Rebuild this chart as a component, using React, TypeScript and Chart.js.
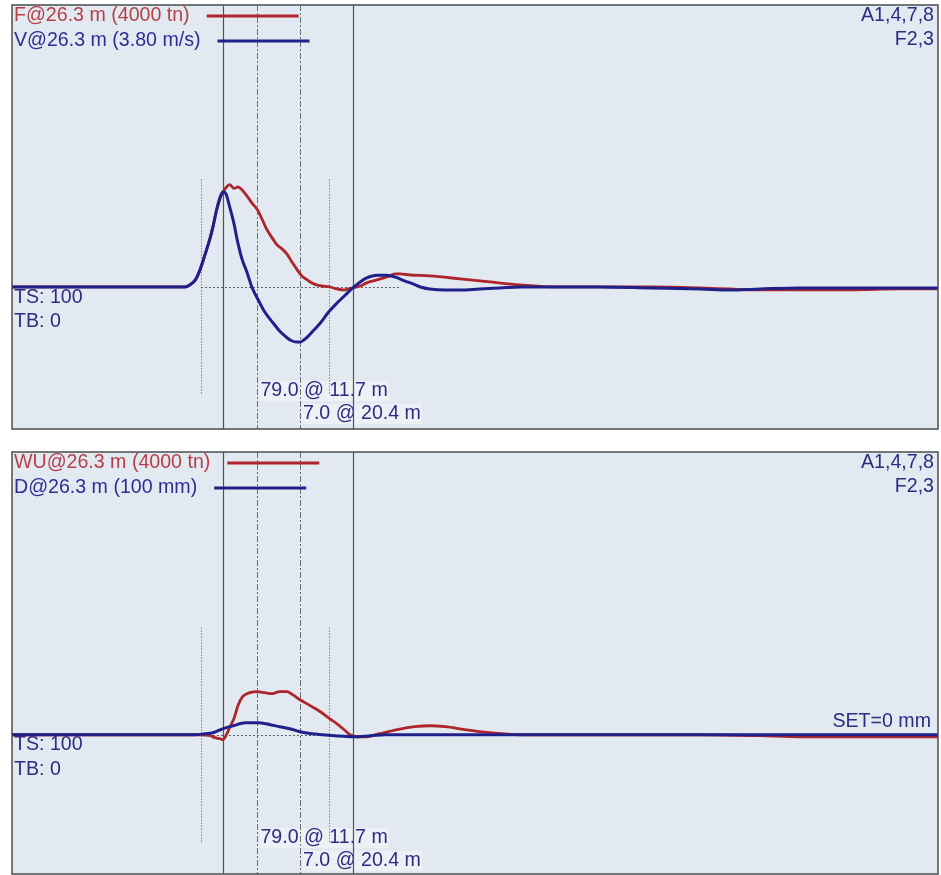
import React, { useEffect, useRef } from 'react';
import { Chart, registerables } from 'chart.js';

Chart.register(...registerables);

// ---------- data ----------
// time axis in ms
const T_RANGE = [0, 100];

// top panel: force (tn) and velocity (m/s)
const F_TOP: [number, number][] = [
  [0, 0], [14.9, 0], [18.7, 0], [19.2, 19], [19.8, 66], [20.3, 161], [20.8, 293], [21.4, 463],
  [21.7, 567], [22.1, 728], [22.5, 842], [22.8, 898], [23.1, 936], [23.5, 965], [24.0, 930],
  [24.4, 945], [24.8, 920], [25.4, 855], [25.9, 794], [26.5, 728], [27.0, 640], [27.5, 545],
  [28.1, 463], [28.6, 400], [29.2, 355], [29.7, 310], [30.2, 240], [30.8, 161], [31.3, 104],
  [31.9, 66], [32.4, 38], [32.9, 19], [33.5, 9], [34.3, 0], [35.1, -19], [35.8, -28],
  [36.3, -19], [36.8, -9], [37.6, 9], [38.3, 38], [39.4, 66], [40.5, 95], [41.4, 123],
  [41.9, 123], [43.0, 113], [45.1, 104], [48.4, 76], [51.6, 47], [54.9, 19], [59.2, 0],
  [68.9, 0], [74.3, -9], [77.5, -19], [80.8, -28], [85.1, -28], [90.5, -28], [95.9, -19], [100, -19],
];
const V_TOP: [number, number][] = [
  [0, 0], [14.9, 0], [18.7, 0], [19.2, 0.018], [19.8, 0.063], [20.3, 0.153], [20.8, 0.279],
  [21.4, 0.44], [21.7, 0.539], [22.1, 0.692], [22.5, 0.81], [22.8, 0.85], [23.1, 0.835],
  [23.5, 0.72], [24.0, 0.557], [24.3, 0.43], [24.8, 0.261], [25.4, 0.126], [25.9, 0],
  [26.6, -0.117], [27.3, -0.225], [28.2, -0.323], [28.9, -0.395], [29.7, -0.455],
  [30.2, -0.482], [30.7, -0.494], [31.1, -0.494], [31.5, -0.476], [32.0, -0.44],
  [32.5, -0.395], [33.3, -0.323], [34.1, -0.234], [35.1, -0.144], [36.0, -0.072],
  [36.8, -0.009], [37.6, 0.045], [38.3, 0.081], [39.4, 0.105], [40.5, 0.105], [41.4, 0.088],
  [42.4, 0.054], [43.3, 0.027], [44.1, 0], [45.1, -0.018], [46.8, -0.027], [48.4, -0.027],
  [50.5, -0.018], [52.7, -0.009], [54.9, 0], [63.5, 0], [68.9, -0.009], [74.3, -0.018],
  [77.5, -0.027], [80.8, -0.018], [85.1, -0.009], [100, -0.009],
];

// bottom panel: wave up (tn) and displacement (mm)
const WU_BOT: [number, number][] = [
  [0, 0], [20.3, 0], [21.4, -9], [21.9, -28], [22.5, -38], [22.8, -47], [23.1, -9],
  [23.5, 66], [24.0, 161], [24.4, 276], [24.9, 361], [25.7, 399], [26.5, 408], [27.3, 399],
  [28.1, 390], [28.9, 408], [29.7, 408], [30.3, 380], [31.1, 332], [32.2, 276], [33.3, 218],
  [34.3, 152], [35.1, 104], [36.0, 38], [36.5, 0], [37.3, -19], [38.3, -19], [39.7, 10],
  [41.6, 48], [43.5, 76], [45.1, 85], [46.8, 76], [48.9, 48], [51.6, 19], [54.9, 0],
  [74.3, 0], [80.8, -9], [85.1, -19], [95.9, -19], [100, -19],
];
const D_BOT: [number, number][] = [
  [0, 0], [19.8, 0], [20.8, 0.24], [21.7, 0.48], [22.8, 1.43], [23.9, 2.14], [25.2, 2.85],
  [26.5, 2.85], [27.9, 2.38], [28.9, 1.9], [30.0, 1.43], [31.1, 0.71], [32.4, 0.24],
  [33.6, 0], [34.9, -0.24], [36.8, -0.48], [38.7, -0.24], [40.3, 0], [100, 0],
];

// markers (ms)
const MARK_SOLID = [22.8, 36.8];
const MARK_DASHED = [26.5, 31.1];
const MARK_SHORT = [20.4, 34.2];
const SHORT_SPAN = 1015; // tn
const ZERO_DOTTED = [20.4, 42];
const MARK_TEXT = ['79.0 @ 11.7 m', '7.0 @ 20.4 m'];
const INFO_TEXT = ['TS: 100', 'TB: 0'];
const RIGHT_TEXT = ['A1,4,7,8', 'F2,3'];

// ---------- styles ----------
const RED = '#ae252b';
const BLUE = '#20208a';
const RED_TEXT = '#b5404a';
const BLUE_TEXT = '#2e2e96';
const NAVY_TEXT = '#2d2d80';
const PANEL_BG = '#e3e9f0';
const FONT = '19.6px "Liberation Sans", Arial, sans-serif';

type Panel = {
  names: [string, string];
  a: [number, number][];
  b: [number, number][];
  yRange: [number, number];
  y2Range: [number, number];
  pad: { left: number; right: number; top: number; bottom: number };
  infoDy: [number, number];
  markDy: [number, number];
  setText?: string;
};

const TOP_PANEL: Panel = {
  names: ['F@26.3 m (4000 tn)', 'V@26.3 m (3.80 m/s)'],
  a: F_TOP,
  b: V_TOP,
  yRange: [-1340, 2660],
  y2Range: [-1.273, 2.527],
  pad: { left: 12, right: 3, top: 5, bottom: 3 },
  infoDy: [11, 35],
  markDy: [-38, -15],
};

const BOTTOM_PANEL: Panel = {
  names: ['WU@26.3 m (4000 tn)', 'D@26.3 m (100 mm)'],
  a: WU_BOT,
  b: D_BOT,
  yRange: [-1320, 2680],
  y2Range: [-33, 67],
  pad: { left: 12, right: 3, top: 6, bottom: 1 },
  infoDy: [10, 35],
  markDy: [-36, -13],
  setText: 'SET=0 mm',
};

function makePlugin(p: Panel) {
  return {
    id: 'pda',
    beforeDraw(chart: any) {
      const { ctx, chartArea: ca } = chart;
      ctx.save();
      ctx.fillStyle = '#ffffff';
      ctx.fillRect(0, 0, chart.width, chart.height);
      ctx.fillStyle = PANEL_BG;
      ctx.fillRect(ca.left, ca.top, ca.right - ca.left, ca.bottom - ca.top);
      ctx.restore();
    },
    beforeDatasetsDraw(chart: any) {
      const { ctx, chartArea: ca, scales } = chart;
      const xs = scales.x;
      const ys = scales.y;
      const y0 = ys.getPixelForValue(0);
      ctx.save();
      ctx.font = FONT;
      ctx.textBaseline = 'middle';
      ctx.fillStyle = NAVY_TEXT;
      ctx.textAlign = 'left';
      INFO_TEXT.forEach((t, i) => ctx.fillText(t, ca.left + 2, y0 + p.infoDy[i]));
      MARK_TEXT.forEach((t, i) => {
        const x = xs.getPixelForValue(MARK_DASHED[i]) + 3;
        const y = ca.bottom + p.markDy[i];
        const w = ctx.measureText(t).width;
        ctx.fillStyle = 'rgba(255,255,255,0.35)';
        ctx.fillRect(x - 1, y - 10, w + 2, 20);
        ctx.fillStyle = NAVY_TEXT;
        ctx.fillText(t, x, y);
      });
      ctx.textAlign = 'right';
      RIGHT_TEXT.forEach((t, i) => ctx.fillText(t, ca.right - 4, ca.top + 11 + i * 24));
      if (p.setText) ctx.fillText(p.setText, ca.right - 7, y0 - 13);

      ctx.lineWidth = 1.2;
      ctx.strokeStyle = '#4f545a';
      ctx.setLineDash([]);
      MARK_SOLID.forEach((m) => {
        const x = Math.round(xs.getPixelForValue(m)) + 0.5;
        ctx.beginPath();
        ctx.moveTo(x, ca.top);
        ctx.lineTo(x, ca.bottom);
        ctx.stroke();
      });
      ctx.lineWidth = 1;
      ctx.strokeStyle = '#6c7178';
      ctx.setLineDash([6, 2, 2, 2]);
      MARK_DASHED.forEach((m) => {
        const x = Math.round(xs.getPixelForValue(m)) + 0.5;
        ctx.beginPath();
        ctx.moveTo(x, ca.top);
        ctx.lineTo(x, ca.bottom);
        ctx.stroke();
      });
      ctx.setLineDash([1, 2]);
      ctx.strokeStyle = '#4e535a';
      MARK_SHORT.forEach((m) => {
        const x = Math.round(xs.getPixelForValue(m)) + 0.5;
        ctx.beginPath();
        ctx.moveTo(x, ys.getPixelForValue(SHORT_SPAN));
        ctx.lineTo(x, ys.getPixelForValue(-SHORT_SPAN));
        ctx.stroke();
      });
      ctx.setLineDash([2, 2]);
      ctx.strokeStyle = '#5c626a';
      ctx.beginPath();
      ctx.moveTo(xs.getPixelForValue(ZERO_DOTTED[0]), Math.round(y0) + 0.5);
      ctx.lineTo(xs.getPixelForValue(ZERO_DOTTED[1]), Math.round(y0) + 0.5);
      ctx.stroke();
      ctx.restore();
    },
    afterDatasetsDraw(chart: any) {
      const { ctx, chartArea: ca } = chart;
      ctx.save();
      ctx.font = FONT;
      ctx.textBaseline = 'middle';
      ctx.textAlign = 'left';
      const cols = [RED, BLUE];
      const tcols = [RED_TEXT, BLUE_TEXT];
      p.names.forEach((n, i) => {
        const y = ca.top + 11 + i * 25;
        ctx.fillStyle = tcols[i];
        ctx.fillText(n, ca.left + 2, y);
        const w = ctx.measureText(n).width;
        const x0 = ca.left + 2 + w + 17;
        ctx.strokeStyle = cols[i];
        ctx.lineWidth = 3;
        ctx.beginPath();
        ctx.moveTo(x0, y);
        ctx.lineTo(x0 + 92, y);
        ctx.stroke();
      });
      ctx.strokeStyle = '#4a4d52';
      ctx.lineWidth = 1.5;
      ctx.strokeRect(ca.left, ca.top, ca.right - ca.left, ca.bottom - ca.top);
      ctx.restore();
    },
  };
}

function buildConfig(p: Panel): any {
  const toXY = (arr: [number, number][]) => arr.map(([x, y]) => ({ x, y }));
  return {
    type: 'line',
    data: {
      datasets: [
        {
          label: p.names[1],
          data: toXY(p.b),
          yAxisID: 'y2',
          borderColor: BLUE,
          borderWidth: 3,
          pointRadius: 0,
          cubicInterpolationMode: 'monotone',
          fill: false,
        },
        {
          label: p.names[0],
          data: toXY(p.a),
          yAxisID: 'y',
          borderColor: RED,
          borderWidth: 2.8,
          pointRadius: 0,
          cubicInterpolationMode: 'monotone',
          fill: false,
        },
      ],
    },
    options: {
      animation: false,
      responsive: false,
      maintainAspectRatio: false,
      devicePixelRatio: 1,
      layout: { padding: p.pad },
      plugins: { legend: { display: false }, tooltip: { enabled: false } },
      events: [],
      scales: {
        x: { type: 'linear', min: T_RANGE[0], max: T_RANGE[1], display: false },
        y: { type: 'linear', min: p.yRange[0], max: p.yRange[1], display: false },
        y2: { type: 'linear', min: p.y2Range[0], max: p.y2Range[1], display: false },
      },
    },
    plugins: [makePlugin(p)],
  };
}

function PanelChart({ panel, top, height }: { panel: Panel; top: number; height: number }) {
  const ref = useRef<HTMLCanvasElement | null>(null);
  useEffect(() => {
    if (!ref.current) return;
    const chart = new Chart(ref.current, buildConfig(panel));
    return () => chart.destroy();
  }, [panel]);
  return (
    <canvas
      ref={ref}
      width={941}
      height={height}
      style={{ position: 'absolute', left: 0, top, width: 941, height, display: 'block' }}
    />
  );
}

export default function App() {
  return (
    <div style={{ position: 'absolute', left: 0, top: 0, width: 941, height: 875, background: '#fff' }}>
      <PanelChart panel={TOP_PANEL} top={0} height={432} />
      <PanelChart panel={BOTTOM_PANEL} top={446} height={429} />
    </div>
  );
}
